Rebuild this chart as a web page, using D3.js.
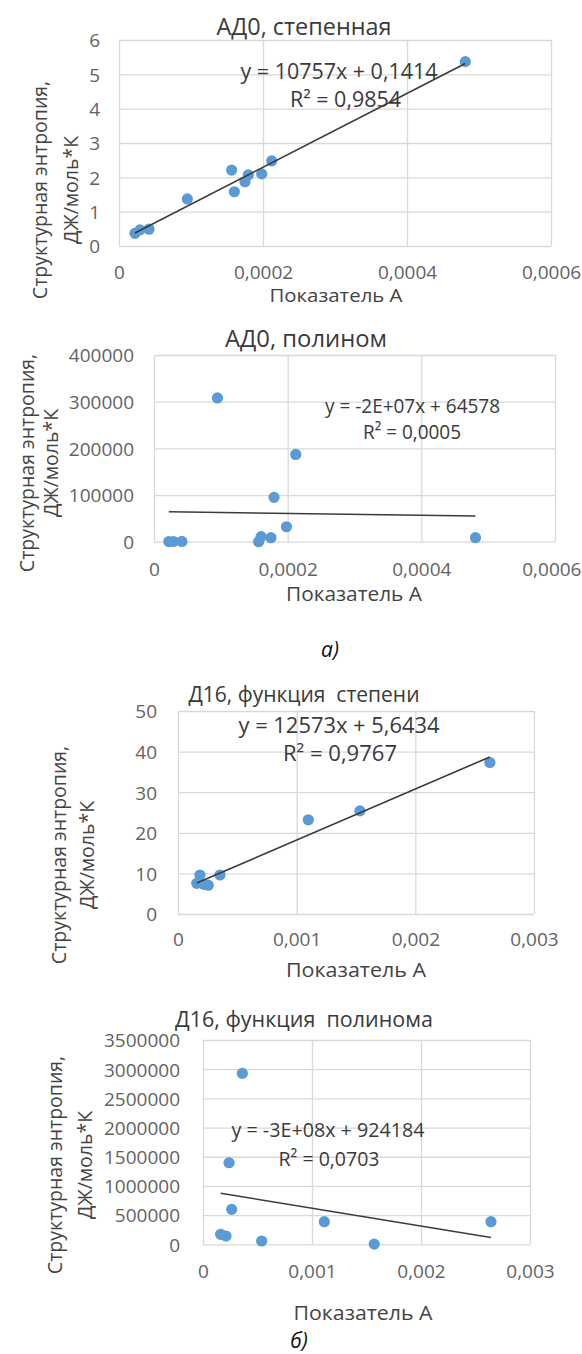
<!DOCTYPE html>
<html><head><meta charset="utf-8">
<script src="https://cdn.jsdelivr.net/npm/d3@7"></script>
<style>body{margin:0;background:#fff} svg{display:block} text{white-space:pre}</style>
</head><body><svg id="c" width="582" height="1354"></svg>
<script>
// ---------- data ----------
const titles = ["АД0, степенная", "АД0, полином", "Д16, функция  степени", "Д16, функция  полинома"];
const xAxisTitle = "Показатель А";
const yAxisTitleLines = ["Структурная энтропия,", "ДЖ/моль*К"];
const captions = ["а)", "б)"];

const xAD0 = [0.0000222, 0.0000292, 0.0000417, 0.0000949, 0.0001565, 0.0001602, 0.000175, 0.0001796, 0.0001982, 0.0002121, 0.000481];
const yAD0Power = [0.37, 0.47, 0.49, 1.37, 2.21, 1.58, 1.87, 2.07, 2.10, 2.48, 5.37];
const yAD0Poly = [300, 400, 500, 308000, 0, 10700, 8600, 95000, 32000, 187000, 8600];

const xD16Power = [0.000158, 0.000185, 0.000219, 0.000255, 0.000354, 0.001098, 0.001533, 0.002628];
const yD16Power = [7.56, 9.6, 7.3, 7.1, 9.6, 23.2, 25.4, 37.3];

const xD16Poly = [0.000162, 0.000211, 0.000239, 0.000263, 0.000361, 0.000538, 0.001113, 0.001571, 0.002642];
const yD16Poly = [171000, 142000, 1397000, 599000, 2928000, 56500, 387000, 3000, 387000];

const trendSlopes = [10757, -2e7, 12573, -3.06e8];
const trendIntercepts = [0.1414, 64578, 5.6434, 924184];
const equations = [
  ["y = 10757x + 0,1414", "R² = 0,9854"],
  ["y = -2E+07x + 64578", "R² = 0,0005"],
  ["y = 12573x + 5,6434", "R² = 0,9767"],
  ["y = -3E+08x + 924184", "R² = 0,0703"]
];

const xTicksAD0 = [0, 0.0002, 0.0004, 0.0006];
const xTickLabelsAD0 = ["0", "0,0002", "0,0004", "0,0006"];
const xTicksD16 = [0, 0.001, 0.002, 0.003];
const xTickLabelsD16 = ["0", "0,001", "0,002", "0,003"];
const yTicksAD0Power = [0, 1, 2, 3, 4, 5, 6];
const yTicksAD0Poly = [0, 100000, 200000, 300000, 400000];
const yTicksD16Power = [0, 10, 20, 30, 40, 50];
const yTicksD16Poly = [0, 500000, 1000000, 1500000, 2000000, 2500000, 3000000, 3500000];

// ---------- layout ----------
const FONT = "'Open Sans', 'Noto Sans', sans-serif";
const charts = [
  {x: xAD0, y: yAD0Power, xt: xTicksAD0, xl: xTickLabelsAD0, yt: yTicksAD0Power,
   L:119, R:551, T:40, B:246, yPad:19, xLabY:33,
   title:{x:304, y:35, w:175, fs:24}, eq:[{x:339,y:79,w:197},{x:345.5,y:107,w:111}], eqFs:21,
   xtitle:{x:336, y:302, w:133}, ytitle:{cy:190, x1:47, x2:78}},
  {x: xAD0, y: yAD0Poly, xt: xTicksAD0, xl: xTickLabelsAD0, yt: yTicksAD0Poly,
   L:154, R:555, T:355, B:541.7, yPad:20, xLabY:34,
   title:{x:306, y:347, w:162, fs:24}, eq:[{x:412.5,y:413,w:175},{x:412,y:439,w:98}], eqFs:20,
   xtitle:{x:354, y:601, w:136}, ytitle:{cy:463, x1:34, x2:58}},
  {x: xD16Power, y: yD16Power, xt: xTicksD16, xl: xTickLabelsD16, yt: yTicksD16Power,
   L:178, R:534, T:711, B:914, yPad:21, xLabY:32,
   title:{x:304, y:702, w:231, fs:21}, eq:[{x:339,y:733,w:201},{x:340,y:761,w:114}], eqFs:21,
   xtitle:{x:356, y:977, w:140}, ytitle:{cy:855, x1:66, x2:94}},
  {x: xD16Poly, y: yD16Poly, xt: xTicksD16, xl: xTickLabelsD16, yt: yTicksD16Poly,
   L:203, R:530, T:1040, B:1244.3, yPad:23, xLabY:34,
   title:{x:304, y:1027, w:258, fs:21}, eq:[{x:328,y:1137,w:193},{x:329,y:1166,w:101}], eqFs:20,
   xtitle:{x:363, y:1320, w:139}, ytitle:{cy:1165, x1:62, x2:92}}
];

const svg = d3.select("#c");
svg.append("rect").attr("width", 582).attr("height", 1354).attr("fill", "#fff");

function label(g, s, x, y, fs, fill, w) {
  const t = g.append("text").attr("x", x).attr("y", y)
    .attr("text-anchor", "middle").attr("font-family", FONT)
    .attr("font-size", fs).attr("fill", fill).text(s);
  if (w) t.attr("textLength", w).attr("lengthAdjust", "spacingAndGlyphs");
  return t;
}

charts.forEach((c, i) => {
  const g = svg.append("g");
  const xs = d3.scaleLinear().domain([c.xt[0], c.xt[c.xt.length - 1]]).range([c.L, c.R]);
  const ys = d3.scaleLinear().domain([c.yt[0], c.yt[c.yt.length - 1]]).range([c.B, c.T]);
  const w = c.R - c.L, h = c.B - c.T;

  // gridlines
  const gx = g.append("g").attr("transform", `translate(0,${c.B})`)
    .call(d3.axisBottom(xs).tickValues(c.xt).tickSizeInner(-h).tickSizeOuter(0).tickFormat(""));
  const gy = g.append("g").attr("transform", `translate(${c.L},0)`)
    .call(d3.axisLeft(ys).tickValues(c.yt).tickSizeInner(-w).tickSizeOuter(0).tickFormat(""));
  [gx, gy].forEach(a => {
    a.select(".domain").remove();
    a.selectAll(".tick line").attr("stroke", "#d9d9d9").attr("stroke-width", 1.3);
  });

  // tick labels
  const lx = g.append("g").attr("transform", `translate(0,${c.B})`)
    .call(d3.axisBottom(xs).tickValues(c.xt).tickSize(0).tickFormat((d, k) => c.xl[k]));
  lx.select(".domain").remove();
  lx.selectAll("text").attr("y", c.xLabY).attr("dy", null)
    .attr("font-family", FONT).attr("font-size", 19).attr("fill", "#636363")
    .each(function(d) {
      const half = this.getComputedTextLength() / 2;
      const over = xs(d) + half - 581;
      if (over > 0) d3.select(this).attr("x", -over);
    });
  const ly = g.append("g").attr("transform", `translate(${c.L},0)`)
    .call(d3.axisLeft(ys).tickValues(c.yt).tickSize(0).tickPadding(c.yPad).tickFormat(d => String(d)));
  ly.select(".domain").remove();
  ly.selectAll("text").attr("dy", "0.36em")
    .attr("font-family", FONT).attr("font-size", 19).attr("fill", "#636363");

  // points
  g.append("g").selectAll("circle").data(c.x).join("circle")
    .attr("cx", d => xs(d)).attr("cy", (d, k) => ys(c.y[k])).attr("r", 5.6)
    .attr("fill", "#5b9bd5");

  // trendline
  const ext = d3.extent(c.x);
  const line = d3.line().x(d => xs(d)).y(d => ys(trendSlopes[i] * d + trendIntercepts[i]));
  g.append("path").attr("d", line(ext)).attr("fill", "none")
    .attr("stroke", "#3b3b3b").attr("stroke-width", 1.6);

  // title
  label(g, titles[i], c.title.x, c.title.y, c.title.fs, "#3a3a3a", c.title.w);
  // equation
  equations[i].forEach((s, k) => label(g, s, c.eq[k].x, c.eq[k].y, c.eqFs, "#3a3a3a", c.eq[k].w));
  // x axis title
  label(g, xAxisTitle, c.xtitle.x, c.xtitle.y, i === 0 ? 19 : 20, "#444", c.xtitle.w);
  // y axis title
  yAxisTitleLines.forEach((s, k) => {
    g.append("text")
      .attr("transform", `translate(${k === 0 ? c.ytitle.x1 : c.ytitle.x2},${c.ytitle.cy}) rotate(-90)`)
      .attr("text-anchor", "middle").attr("font-family", FONT).attr("font-size", 19.5)
      .attr("fill", "#444").text(s);
  });
});

// captions
svg.append("text").attr("x", 330).attr("y", 657).attr("text-anchor", "middle")
  .attr("font-family", FONT).attr("font-style", "italic").attr("font-size", 21)
  .attr("fill", "#111").text(captions[0]);
svg.append("text").attr("x", 299).attr("y", 1348).attr("text-anchor", "middle")
  .attr("font-family", FONT).attr("font-style", "italic").attr("font-size", 21)
  .attr("fill", "#111").text(captions[1]);
</script>
</body></html>
